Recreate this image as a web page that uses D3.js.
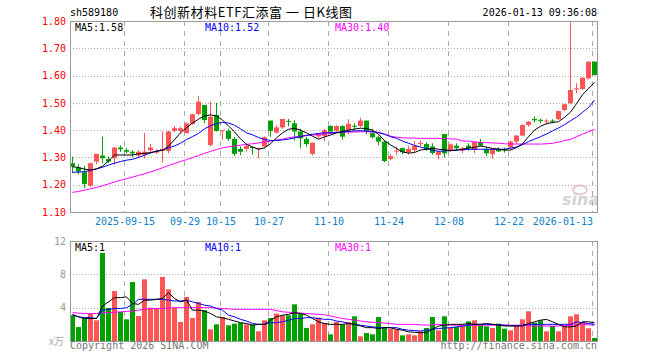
<!DOCTYPE html>
<html>
<head>
<meta charset="utf-8">
<script src="https://cdn.jsdelivr.net/npm/d3@7"></script>
<style>
  body { margin: 0; background: #fff; }
  text { font-family: "DejaVu Sans Mono", monospace; }
</style>
</head>
<body>
<div id="chart"></div>
<script>
// Trading days shown on the chart.
var dates = [
  "2025-09-02","2025-09-03","2025-09-04","2025-09-05","2025-09-08","2025-09-09","2025-09-10","2025-09-11","2025-09-12",
  "2025-09-15","2025-09-16","2025-09-17","2025-09-18","2025-09-19","2025-09-22","2025-09-23","2025-09-24","2025-09-25","2025-09-26","2025-09-29","2025-09-30",
  "2025-10-09","2025-10-10","2025-10-13","2025-10-14","2025-10-15","2025-10-16","2025-10-17","2025-10-20","2025-10-21","2025-10-22","2025-10-23","2025-10-24","2025-10-27","2025-10-28","2025-10-29","2025-10-30","2025-10-31",
  "2025-11-03","2025-11-04","2025-11-05","2025-11-06","2025-11-07","2025-11-10","2025-11-11","2025-11-12","2025-11-13","2025-11-14","2025-11-17","2025-11-18","2025-11-19","2025-11-20","2025-11-21","2025-11-24","2025-11-25","2025-11-26","2025-11-27","2025-11-28",
  "2025-12-01","2025-12-02","2025-12-03","2025-12-04","2025-12-05","2025-12-08","2025-12-09","2025-12-10","2025-12-11","2025-12-12","2025-12-15","2025-12-16","2025-12-17","2025-12-18","2025-12-19","2025-12-22","2025-12-23","2025-12-24","2025-12-25","2025-12-26","2025-12-29","2025-12-30","2025-12-31",
  "2026-01-05","2026-01-06","2026-01-07","2026-01-08","2026-01-09","2026-01-12","2026-01-13"
];

var open = [
  1.279,1.263,1.246,1.196,1.285,1.307,1.294,1.297,1.336,1.327,
  1.321,1.307,1.310,1.326,1.318,1.324,1.324,1.397,1.397,1.389,
  1.423,1.459,1.492,1.346,1.456,1.397,1.397,1.368,1.331,1.331,
  1.338,1.330,1.340,1.435,1.391,1.410,1.434,1.425,1.395,1.368,
  1.313,1.377,1.379,1.415,1.398,1.415,1.400,1.416,1.415,1.435,
  1.389,1.374,1.358,1.294,1.322,1.334,1.319,1.327,1.350,1.349,
  1.340,1.309,1.386,1.327,1.343,1.325,1.343,1.327,1.356,1.330,
  1.312,1.330,1.330,1.337,1.358,1.380,1.419,1.441,1.438,1.432,
  1.435,1.440,1.474,1.499,1.549,1.551,1.590,1.651
];
var high = [
  1.303,1.275,1.268,1.281,1.313,1.376,1.303,1.338,1.344,1.334,
  1.326,1.326,1.389,1.350,1.330,1.395,1.398,1.415,1.412,1.428,
  1.460,1.525,1.492,1.504,1.500,1.400,1.405,1.375,1.340,1.348,
  1.341,1.336,1.377,1.435,1.418,1.441,1.441,1.436,1.405,1.375,
  1.354,1.390,1.405,1.418,1.418,1.418,1.440,1.425,1.445,1.435,
  1.405,1.380,1.360,1.312,1.340,1.336,1.343,1.360,1.362,1.355,
  1.352,1.325,1.386,1.352,1.352,1.338,1.352,1.358,1.368,1.338,
  1.332,1.338,1.336,1.362,1.382,1.421,1.434,1.450,1.442,1.440,
  1.440,1.472,1.497,1.795,1.572,1.594,1.652,1.652
];
var low = [
  1.242,1.238,1.187,1.192,1.276,1.279,1.280,1.273,1.320,1.315,
  1.300,1.300,1.297,1.318,1.312,1.281,1.315,1.392,1.388,1.388,
  1.420,1.455,1.426,1.340,1.395,1.364,1.360,1.305,1.308,1.322,
  1.310,1.297,1.335,1.376,1.388,1.405,1.414,1.363,1.334,1.340,
  1.307,1.370,1.360,1.385,1.393,1.365,1.385,1.398,1.410,1.385,
  1.370,1.345,1.283,1.290,1.310,1.312,1.310,1.320,1.340,1.325,
  1.310,1.293,1.300,1.320,1.325,1.315,1.325,1.315,1.340,1.305,
  1.295,1.320,1.318,1.330,1.350,1.378,1.412,1.428,1.425,1.420,
  1.425,1.438,1.470,1.495,1.535,1.548,1.585,1.600
];
var close = [
  1.266,1.248,1.203,1.279,1.313,1.297,1.285,1.336,1.330,1.321,
  1.315,1.321,1.321,1.336,1.322,1.331,1.395,1.407,1.407,1.425,
  1.458,1.504,1.437,1.449,1.397,1.400,1.368,1.313,1.321,1.342,
  1.336,1.334,1.374,1.397,1.410,1.441,1.431,1.395,1.370,1.349,
  1.354,1.385,1.400,1.395,1.415,1.376,1.423,1.413,1.435,1.395,
  1.374,1.358,1.287,1.305,1.325,1.319,1.331,1.343,1.353,1.331,
  1.316,1.321,1.315,1.348,1.334,1.334,1.334,1.356,1.343,1.315,
  1.330,1.322,1.326,1.358,1.380,1.419,1.431,1.436,1.434,1.435,
  1.432,1.470,1.495,1.547,1.553,1.592,1.651,1.602
];

// Price moving averages.
var ma5 = [
  1.266,1.263,1.257,1.254,1.258,1.268,1.287,1.309,1.309,1.309,
  1.309,1.313,1.315,1.318,1.322,1.326,1.341,1.365,1.390,1.409,
  1.426,1.440,1.452,1.456,1.452,1.437,1.415,1.394,1.368,1.348,
  1.338,1.330,1.335,1.350,1.372,1.390,1.403,1.407,1.400,1.390,
  1.378,1.367,1.375,1.382,1.390,1.395,1.400,1.404,1.407,1.406,
  1.400,1.385,1.362,1.346,1.333,1.320,1.316,1.318,1.327,1.330,
  1.333,1.330,1.328,1.325,1.327,1.330,1.334,1.337,1.342,1.338,
  1.333,1.330,1.327,1.327,1.336,1.350,1.376,1.400,1.414,1.424,
  1.428,1.431,1.447,1.466,1.497,1.530,1.553,1.575
];
var ma10 = [
  1.246,1.246,1.248,1.252,1.258,1.264,1.272,1.279,1.285,1.290,
  1.293,1.300,1.308,1.316,1.324,1.327,1.335,1.342,1.352,1.366,
  1.376,1.388,1.405,1.416,1.424,1.428,1.426,1.418,1.405,1.390,
  1.383,1.373,1.366,1.362,1.362,1.364,1.367,1.372,1.376,1.381,
  1.385,1.388,1.390,1.391,1.392,1.393,1.395,1.397,1.398,1.397,
  1.395,1.391,1.385,1.376,1.370,1.360,1.352,1.344,1.338,1.332,
  1.327,1.322,1.324,1.325,1.327,1.328,1.330,1.330,1.330,1.330,
  1.330,1.330,1.330,1.334,1.338,1.347,1.358,1.367,1.376,1.386,
  1.397,1.408,1.420,1.434,1.448,1.465,1.483,1.510
];
var ma30 = [
  1.172,1.175,1.180,1.185,1.190,1.196,1.203,1.210,1.216,1.222,
  1.228,1.234,1.240,1.247,1.254,1.262,1.270,1.278,1.285,1.292,
  1.299,1.307,1.315,1.322,1.329,1.335,1.339,1.342,1.345,1.348,
  1.350,1.353,1.356,1.360,1.364,1.367,1.372,1.375,1.378,1.380,
  1.382,1.384,1.386,1.388,1.390,1.392,1.393,1.393,1.394,1.394,
  1.393,1.392,1.386,1.378,1.374,1.372,1.371,1.371,1.370,1.370,
  1.370,1.370,1.369,1.368,1.367,1.360,1.360,1.357,1.355,1.354,
  1.353,1.352,1.350,1.349,1.349,1.349,1.349,1.349,1.349,1.350,
  1.352,1.356,1.362,1.366,1.376,1.385,1.395,1.403
];

// Volume (x万) and its moving averages.
var volume = [
  3.08,1.68,2.80,3.28,2.48,10.56,3.96,6.00,3.48,2.60,
  7.08,3.00,7.40,4.00,3.96,7.68,6.20,3.96,2.28,5.28,
  2.76,4.68,3.68,1.40,2.00,2.88,1.88,2.08,2.20,2.00,
  1.96,1.16,2.48,2.76,3.28,3.08,3.08,4.40,3.28,1.56,
  2.00,2.80,2.16,0.80,2.28,2.00,2.28,2.96,0.56,0.96,
  0.80,2.88,1.68,1.48,1.40,0.68,0.80,0.68,1.16,1.56,
  2.88,1.28,2.96,1.60,1.68,1.96,2.36,2.48,1.88,1.76,
  1.56,2.08,1.48,1.28,1.76,2.60,3.56,2.20,2.48,1.16,
  1.80,1.16,1.76,2.96,3.20,2.28,1.52,0.36
];
var volMa5 = [
  3.1,2.9,2.7,2.7,2.7,4.2,4.7,5.2,5.2,5.3,
  4.5,4.4,4.9,4.9,5.0,5.1,5.8,5.1,4.7,4.9,
  3.7,3.7,3.6,3.3,2.9,2.8,2.6,2.4,2.2,2.1,
  1.9,2.0,2.0,2.5,2.9,3.1,3.2,3.4,3.3,3.1,
  2.7,2.3,2.1,2.0,2.0,2.0,2.1,2.0,1.8,1.6,
  1.6,1.5,1.6,1.6,1.4,1.3,1.1,1.05,1.0,1.0,
  1.4,1.8,1.9,2.0,2.0,2.0,2.1,2.0,2.0,2.1,
  2.0,1.9,1.8,1.8,1.8,1.8,2.1,2.3,2.5,2.6,
  2.3,2.0,1.7,1.7,1.8,2.3,2.3,2.2
];
var volMa10 = [
  3.2,2.9,2.8,2.8,2.7,3.7,3.8,3.9,3.9,4.0,
  4.4,5.0,5.0,5.0,5.0,5.0,4.9,4.8,4.8,4.9,
  4.7,4.5,4.3,4.2,3.9,3.7,3.1,2.9,2.6,2.4,
  2.1,2.0,2.0,2.2,2.2,2.3,2.5,2.7,2.7,2.8,
  2.8,2.7,2.6,2.6,2.4,2.3,2.1,2.0,1.9,1.8,
  1.7,1.6,1.6,1.6,1.6,1.4,1.3,1.25,1.2,1.3,
  1.4,1.5,1.55,1.6,1.7,1.8,1.9,2.0,2.0,2.0,
  2.0,1.95,1.9,1.85,1.8,1.9,2.0,2.0,2.0,2.0,
  2.0,2.0,2.0,2.0,2.3,2.2,2.1,2.0
];
var volMa30 = [
  3.4,3.35,3.3,3.3,3.3,3.4,3.4,3.45,3.5,3.55,
  3.6,3.7,3.8,3.9,3.9,3.9,3.95,4.0,4.0,4.0,
  4.0,4.0,4.0,4.0,3.95,3.9,3.85,3.8,3.8,3.8,
  3.8,3.8,3.8,3.8,3.65,3.5,3.45,3.4,3.35,3.3,
  3.25,3.2,3.15,3.0,2.85,2.7,2.6,2.5,2.4,2.3,
  2.25,2.2,2.15,2.1,2.0,2.0,2.0,2.0,1.95,1.9,
  1.95,2.0,1.95,1.9,1.9,1.9,1.9,1.9,1.9,1.9,
  1.9,1.9,1.9,1.9,1.9,1.9,1.85,1.8,1.8,1.8,
  1.8,1.8,1.85,1.9,1.95,2.0,1.95,1.9
];

var priceTicks = [1.10, 1.20, 1.30, 1.40, 1.50, 1.60, 1.70, 1.80];
var volTicks = [4, 8, 12];
var tickDates = ["2025-09-15","2025-09-29","2025-10-15","2025-10-27","2025-11-10","2025-11-24","2025-12-08","2025-12-22","2026-01-13"];
var tickLabels = ["2025-09-15","09-29","10-15","10-27","11-10","11-24","12-08","12-22","2026-01-13"];

(function() {
  var width = 660, height = 360;
  var left = 70, right = 597;
  var pTop = 21, pBottom = 212, vTop = 241, vBottom = 341;

  var red = "#ff5454", green = "#00a000";
  var gridColor = "#aaaaaa";

  var svg = d3.select("#chart")
    .append("svg")
      .attr("width", width)
      .attr("height", height);

  var x = d3.scalePoint().domain(dates).range([72.5, 594.5]);
  var y = d3.scaleLinear().domain([1.10, 1.80]).range([pBottom, pTop]);
  var yv = d3.scaleLinear().domain([0, 12]).range([vBottom, vTop]);

  // Header line.
  svg.append("text").attr("x", 70).attr("y", 16).text("sh589180")
    .style("font-size", "10px").style("fill", "#000");
  svg.append("text").attr("x", 150).attr("y", 17).text("科创新材料ETF汇添富 一 日K线图")
    .attr("textLength", 202).attr("lengthAdjust", "spacing")
    .style("font-family", "'Noto Sans CJK SC', sans-serif").style("font-size", "13px").style("fill", "#000");
  svg.append("text").attr("x", 597).attr("y", 16).attr("text-anchor", "end").text("2026-01-13 09:36:08")
    .style("font-size", "10px").style("fill", "#000");

  // Grid lines for both panels.
  function drawGrid(yScale, ticks, top, bottom) {
    var g = svg.append("g");
    g.selectAll("line.h")
      .data(ticks)
      .enter().append("line")
        .attr("x1", left).attr("x2", right)
        .attr("y1", function(d) { return Math.round(yScale(d)) + 0.5; })
        .attr("y2", function(d) { return Math.round(yScale(d)) + 0.5; })
        .attr("stroke", gridColor)
        .attr("stroke-dasharray", "1,2");
    g.selectAll("line.v")
      .data(tickDates)
      .enter().append("line")
        .attr("x1", function(d) { return x(d) - 2; })
        .attr("x2", function(d) { return x(d) - 2; })
        .attr("y1", top).attr("y2", bottom)
        .attr("stroke", gridColor)
        .attr("stroke-dasharray", "5,5");
  }
  drawGrid(y, priceTicks.slice(1, -1), pTop, pBottom);
  drawGrid(yv, volTicks.slice(0, -1), vTop, vBottom);

  // Price axis labels.
  var yAxis = svg.append("g")
    .attr("transform", "translate(" + left + ",0)")
    .call(d3.axisLeft(y).tickValues(priceTicks).tickFormat(d3.format(".2f")).tickSize(0).tickPadding(4));
  yAxis.select(".domain").remove();
  yAxis.selectAll("text").style("fill", "#ff0000").style("font-size", "10px")
    .style("font-family", "'DejaVu Sans Mono', monospace");

  // Date axis.
  var xAxis = svg.append("g")
    .attr("transform", "translate(-2," + pBottom + ")")
    .call(d3.axisBottom(x).tickValues(tickDates)
      .tickFormat(function(d) { return tickLabels[tickDates.indexOf(d)]; })
      .tickSize(0).tickPadding(6));
  xAxis.select(".domain").remove();
  xAxis.selectAll("text").style("fill", "#0f7fc8").style("font-size", "10px")
    .style("font-family", "'DejaVu Sans Mono', monospace")
    .attr("text-anchor", function(d, i) { return i === tickDates.length - 1 ? "end" : "middle"; });

  // Volume axis labels.
  var vAxis = svg.append("g")
    .attr("transform", "translate(" + left + ",0)")
    .call(d3.axisLeft(yv).tickValues(volTicks).tickSize(0).tickPadding(4));
  vAxis.select(".domain").remove();
  vAxis.selectAll("text").style("fill", "#999").style("font-size", "10px")
    .style("font-family", "'DejaVu Sans Mono', monospace");
  svg.append("text").attr("x", 64).attr("y", 345).attr("text-anchor", "end").text("x万")
    .style("font-family", "'Noto Sans CJK SC', sans-serif").style("font-size", "10px").style("fill", "#aaa");

  // Sina watermark.
  var wm = svg.append("g").style("opacity", 0.55);
  wm.append("ellipse").attr("cx", 580).attr("cy", 190).attr("rx", 7).attr("ry", 4.5)
    .attr("fill", "none").attr("stroke", "#d9a0a0").attr("stroke-width", 2);
  wm.append("text").attr("x", 562).attr("y", 205).text("sina")
    .style("font-family", "'DejaVu Sans', sans-serif").style("font-style", "italic")
    .style("font-weight", "bold").style("font-size", "16px").style("fill", "#b0b0b0");

  // Candles.
  var idx = d3.range(dates.length);
  var candles = svg.append("g").selectAll("g")
    .data(idx)
    .enter().append("g");
  candles.append("line")
    .attr("x1", function(i) { return x(dates[i]); })
    .attr("x2", function(i) { return x(dates[i]); })
    .attr("y1", function(i) { return y(high[i]); })
    .attr("y2", function(i) { return y(low[i]); })
    .attr("stroke", function(i) { return close[i] >= open[i] ? red : green; });
  candles.append("rect")
    .attr("x", function(i) { return x(dates[i]) - 2.5; })
    .attr("width", 5)
    .attr("y", function(i) { return y(Math.max(open[i], close[i])); })
    .attr("height", function(i) { return Math.max(1, Math.abs(y(open[i]) - y(close[i]))); })
    .attr("fill", function(i) { return close[i] >= open[i] ? red : green; });

  // Volume bars.
  svg.append("g").selectAll("rect")
    .data(idx)
    .enter().append("rect")
      .attr("x", function(i) { return x(dates[i]) - 2.5; })
      .attr("width", 5)
      .attr("y", function(i) { return yv(volume[i]); })
      .attr("height", function(i) { return vBottom - yv(volume[i]); })
      .attr("fill", function(i) { return close[i] >= open[i] ? red : green; });

  // Moving average lines.
  function maLine(values, scale, color) {
    var line = d3.line()
      .x(function(d, i) { return x(dates[i]); })
      .y(function(d) { return scale(d); });
    svg.append("path")
      .datum(values)
      .attr("d", line)
      .attr("fill", "none")
      .attr("stroke", color)
      .attr("stroke-width", 1);
  }
  maLine(ma30, y, "#ff00ff");
  maLine(ma10, y, "#0000ff");
  maLine(ma5, y, "#000000");
  maLine(volMa30, yv, "#ff00ff");
  maLine(volMa10, yv, "#0000ff");
  maLine(volMa5, yv, "#000000");

  // Panel borders.
  svg.append("rect").attr("x", left + 0.5).attr("y", pTop + 0.5)
    .attr("width", right - left).attr("height", pBottom - pTop)
    .attr("fill", "none").attr("stroke", "#999");
  svg.append("rect").attr("x", left + 0.5).attr("y", vTop + 0.5)
    .attr("width", right - left).attr("height", vBottom - vTop)
    .attr("fill", "none").attr("stroke", "#999");

  // Legends.
  function legend(items, ly) {
    items.forEach(function(it) {
      svg.append("text").attr("x", it.x).attr("y", ly).text(it.t)
        .style("font-size", "10px").style("fill", it.c);
    });
  }
  legend([
    { x: 75, t: "MA5:1.58", c: "#000" },
    { x: 205, t: "MA10:1.52", c: "#0000ff" },
    { x: 335, t: "MA30:1.40", c: "#ff00ff" }
  ], 31);
  legend([
    { x: 75, t: "MA5:1", c: "#000" },
    { x: 205, t: "MA10:1", c: "#0000ff" },
    { x: 335, t: "MA30:1", c: "#ff00ff" }
  ], 251);

  // Footer.
  svg.append("text").attr("x", 70).attr("y", 349).text("Copyright 2026 SINA.COM")
    .style("font-size", "10px").style("fill", "#777");
  svg.append("text").attr("x", 597).attr("y", 349).attr("text-anchor", "end").text("http://finance.sina.com.cn")
    .style("font-size", "10px").style("fill", "#777");
})();
</script>
</body>
</html>
